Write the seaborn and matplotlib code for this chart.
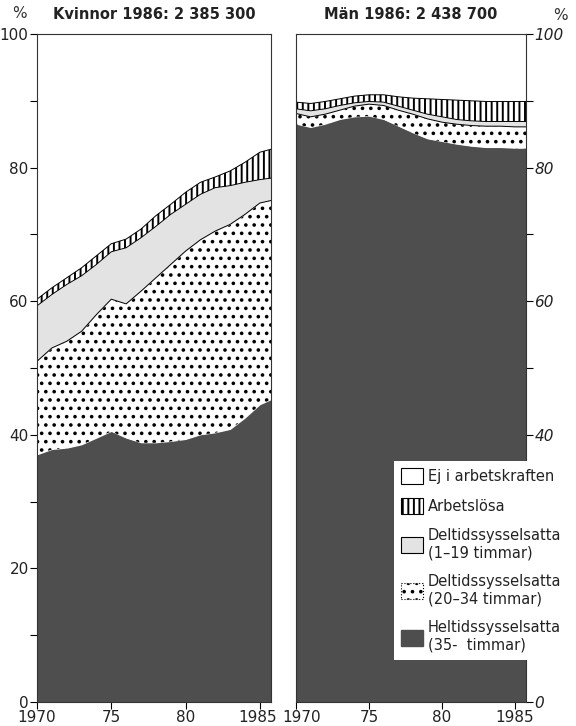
import numpy as np
import pandas as pd
import seaborn as sns
import matplotlib.pyplot as plt
import matplotlib.transforms as mtransforms
from matplotlib.patches import Patch

years = list(range(1970, 1987))

# Kvinnor, andel (%) per grupp
heltid_k = [37.0, 37.8, 38.0, 38.5, 39.5, 40.5, 39.5, 38.8, 38.8, 39.0, 39.3, 40.0, 40.3, 40.8, 42.5, 44.5, 45.5]
deltid20_k = [14.0, 15.2, 16.0, 17.0, 18.5, 19.8, 20.1, 22.7, 24.7, 26.5, 28.2, 29.2, 30.2, 30.7, 30.5, 30.2, 29.7]
deltid1_k = [8.3, 8.0, 8.5, 8.3, 7.5, 7.1, 8.4, 8.0, 7.7, 7.5, 7.0, 6.8, 6.5, 5.8, 4.8, 3.5, 3.3]
arbetslosa_k = [1.0, 1.0, 1.0, 1.2, 1.3, 1.2, 1.3, 1.3, 1.6, 1.5, 1.8, 1.8, 1.6, 2.2, 3.0, 4.1, 4.4]

# Män
heltid_m = [86.5, 86.0, 86.5, 87.2, 87.6, 87.7, 87.2, 86.2, 85.2, 84.3, 83.9, 83.5, 83.2, 83.0, 83.0, 82.9, 82.9]
deltid20_m = [1.6, 1.6, 1.5, 1.4, 1.6, 1.8, 2.1, 2.4, 2.8, 3.0, 2.9, 3.0, 3.1, 3.2, 3.2, 3.2, 3.2]
deltid1_m = [0.7, 0.9, 0.8, 0.7, 0.5, 0.4, 0.5, 0.6, 0.6, 0.7, 0.8, 0.7, 0.7, 0.7, 0.7, 0.8, 0.8]
arbetslosa_m = [1.0, 1.1, 1.1, 1.0, 1.0, 1.0, 1.1, 1.4, 1.8, 2.3, 2.6, 2.9, 3.0, 3.0, 3.0, 3.0, 3.0]

titles = ["Kvinnor 1986: 2 385 300", "Män 1986: 2 438 700"]
labels = ["Ej i arbetskraften", "Arbetslösa",
          "Deltidssysselsatta\n(1–19 timmar)",
          "Deltidssysselsatta\n(20–34 timmar)",
          "Heltidssysselsatta\n(35-  timmar)"]
xticks = [1970, 1975, 1980, 1985]
xticklabels = ["1970", "75", "80", "1985"]
yticks = [0, 20, 40, 60, 80, 100]
yticklabels_right = ["0", "", "40", "60", "80", "100"]  # 20 ligger under förklaringen

sns.set_theme(style="ticks")
plt.rcParams['font.family'] = ['DejaVu Sans']
plt.rcParams['hatch.linewidth'] = 1.4

# styles bottom -> top: heltid, deltid 20-34, deltid 1-19, arbetslösa
styles = [dict(facecolor='#4e4e4e', hatch=None, edgecolor='#4e4e4e'),
          dict(facecolor='white', hatch='..', edgecolor='black'),
          dict(facecolor='#e3e3e3', hatch=None, edgecolor='#e3e3e3'),
          dict(facecolor='white', hatch='|||', edgecolor='black')]

fig = plt.figure(figsize=(5.76, 7.26), dpi=100)
ax1 = fig.add_axes([37/576, 1-702/726, (271-37)/576, (702-34)/726])
ax2 = fig.add_axes([296/576, 1-702/726, (526-296)/576, (702-34)/726])


def draw(ax, series, title):
    lower = np.zeros(len(years))
    for vals, st in zip(series, styles):
        upper = lower + np.array(vals)
        ax.fill_between(years, lower, upper, linewidth=0, **st)
        lower = upper
    tops = np.cumsum(np.array(series), axis=0)
    for i, top in enumerate(tops):
        if i == 0:
            continue
        sns.lineplot(x=years, y=top, color='black', lw=0.7, ax=ax)
    ax.set_xlim(1970, 1985.75)
    ax.set_ylim(0, 100)
    ax.set_xticks(xticks)
    ax.set_xticklabels(xticklabels)
    ax.set_yticks(yticks)
    ax.set_yticks(range(10, 100, 20), minor=True)
    ax.tick_params(axis='both', which='both', direction='out', length=5, width=0.8,
                   labelsize=11, pad=1, color='black', labelcolor='#222222')
    for sp in ax.spines.values():
        sp.set_linewidth(0.8)
        sp.set_color('#333333')
    ax.set_xlabel("")
    ax.set_ylabel("")
    ax.set_title(title, fontsize=10.5, fontweight='bold', pad=11, color='#222222')


draw(ax1, [heltid_k, deltid20_k, deltid1_k, arbetslosa_k], titles[0])
draw(ax2, [heltid_m, deltid20_m, deltid1_m, arbetslosa_m], titles[1])

ax2.yaxis.tick_right()
ax2.set_yticklabels(yticklabels_right)
for t in ax2.get_yticklabels():
    t.set_fontstyle('italic')

# 1985 och 1970 står tätt intill varandra mellan panelerna
lab = ax1.get_xticklabels()[-1]
lab.set_transform(lab.get_transform() + mtransforms.ScaledTranslation(-2/100, 0, fig.dpi_scale_trans))
lab = ax2.get_xticklabels()[0]
lab.set_transform(lab.get_transform() + mtransforms.ScaledTranslation(6/100, 0, fig.dpi_scale_trans))

fig.text(12/576, 1-14/726, "%", fontsize=11, color='#333333', ha='left', va='center')
fig.text(553/576, 1-16/726, "%", fontsize=11, color='#333333', ha='left', va='center')

handles = [Patch(facecolor='white', edgecolor='black', linewidth=0.8),
           Patch(facecolor='white', hatch='|||', edgecolor='black', linewidth=0.8),
           Patch(facecolor='#e3e3e3', edgecolor='black', linewidth=0.8),
           Patch(facecolor='white', hatch='..', edgecolor='black', linewidth=0.8, linestyle=':'),
           Patch(facecolor='#4e4e4e', edgecolor='#4e4e4e')]

leg = fig.legend(handles, labels, loc='upper left', bbox_to_anchor=(394/576, 1-461/726),
                 frameon=True, fancybox=False, framealpha=1, facecolor='white',
                 fontsize=10.5, handlelength=1.5, handleheight=1.3, labelspacing=0.95,
                 handletextpad=0.3, borderpad=0.5, borderaxespad=0)
leg.get_frame().set_linewidth(0)
for t in leg.get_texts():
    t.set_color('#222222')

plt.savefig("out.png", dpi=100)
